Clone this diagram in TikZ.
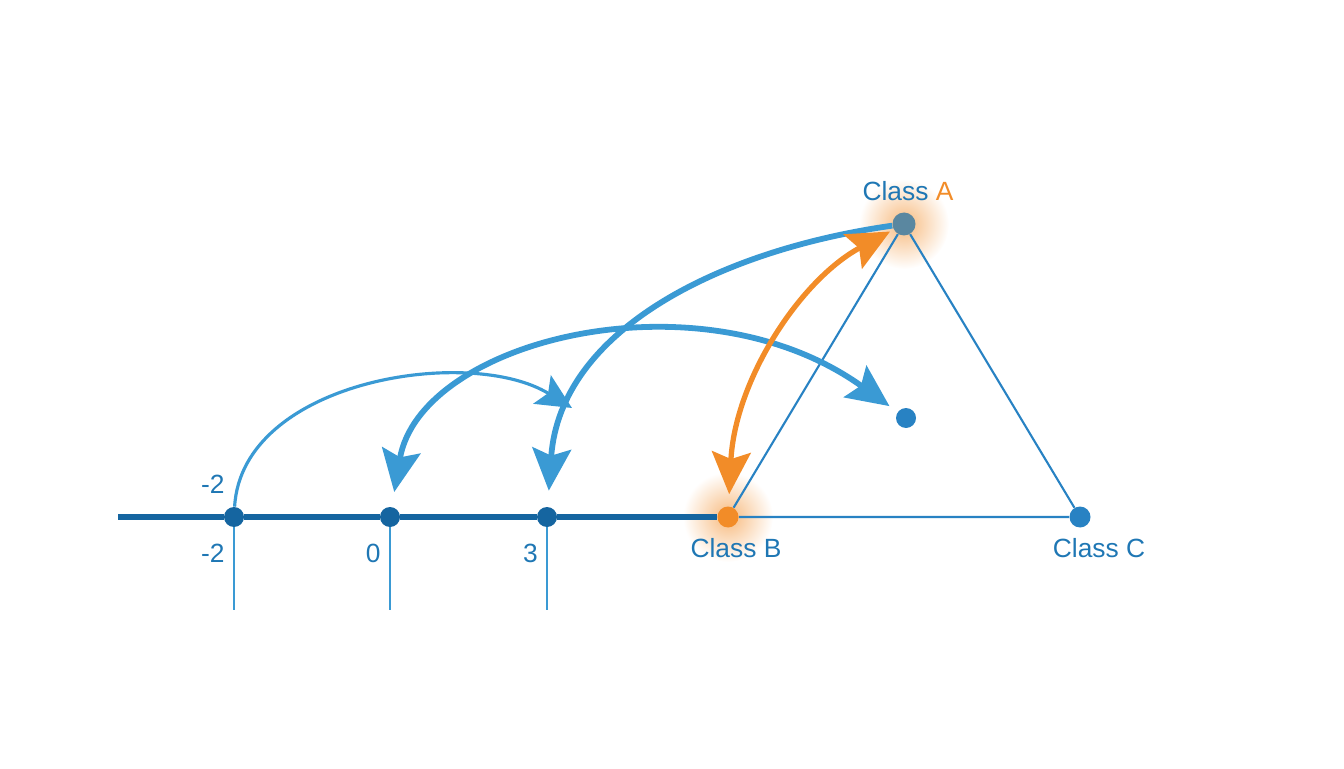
\documentclass[tikz,border=0pt]{standalone}
\usepackage{fontspec}
\setmainfont{Liberation Sans}
\usetikzlibrary{arrows.meta}
\usetikzlibrary{positioning}
\usetikzlibrary{backgrounds}
\definecolor{linienblau}{RGB}{58,154,212}
\definecolor{dunkelblau}{RGB}{21,101,160}
\definecolor{textblau}{RGB}{31,119,180}
\definecolor{punktblau}{RGB}{40,130,195}
\definecolor{orangeA}{RGB}{242,140,40}
\definecolor{graublau}{RGB}{90,135,160}

\begin{document}
\begin{tikzpicture}[x=0.02cm, y=0.02cm, % 1 Einheit = 1 Pixel
  punkt/.style={circle, fill=dunkelblau, inner sep=0pt, minimum size=0.4cm},
  beschr/.style={text=textblau, inner sep=0pt, font=\fontsize{15}{18}\selectfont},
  strich/.style={draw=linienblau, line width=1.4pt},
  seite/.style={draw=punktblau, line width=1.2pt},
  pfeil/.tip={Stealth[length=24pt, width=22pt, inset=4pt]},
  kleinpfeil/.tip={Stealth[length=20pt, width=19pt, inset=4pt]},
  bogen/.style={draw=linienblau, line width=3.3pt},
  duennbogen/.style={draw=linienblau, line width=1.8pt, -kleinpfeil},
  orangebogen/.style={draw=orangeA, line width=3pt, pfeil-pfeil},
  leuchten/.style={inner color=orangeA!60, outer color=white}
]
\useasboundingbox (0,0) rectangle (1344,768);

% Punkte
\coordinate (links) at (118,251);
\foreach \name/\x/\wert in {m2/234/-2, z/390/0, t/547/3} {
  \node[punkt] (\name) at (\x,251) {};
  \coordinate (\name u) at (\x,158);
  \node[beschr, anchor=east] (\name w) at (\x-9,215) {\wert}; % Beschriftung unten
}
\node[beschr, anchor=east] (m2o) at (225,284) {-2};
\node[punkt, fill=orangeA, minimum size=0.42cm] (B) at (728,251) {};
\node[punkt, fill=punktblau, minimum size=0.42cm] (C) at (1080,251) {};
\node[punkt, fill=graublau, minimum size=0.46cm] (A) at (904,544) {};
\node[punkt, fill=punktblau] (P) at (906,350) {};

% Klassen
\node[beschr] (labA) at (908,577) {Class \textcolor{orangeA}{A}};
\node[beschr] (labB) at (736,220) {Class B};
\node[beschr] (labC) at (1099,220) {Class C};

% Linien im Hintergrund
\begin{scope}[on background layer]
  \shade[leuchten] (B) circle (0.9cm);
  \shade[leuchten] (A) circle (0.9cm);
  \draw[dunkelblau, line width=3pt] (links) -- (m2) -- (z) -- (t) -- (B);
  \foreach \name in {m2, z, t} {
    \draw[strich] (\name) -- (\name u);
  }
  \draw[seite] (B) -- (C) -- (A) -- (B);
\end{scope}

% Bögen
\coordinate (h1) at (572,360);
\draw[duennbogen] (m2) .. controls (242,388) and (470,423) .. (h1);
\draw[bogen, pfeil-pfeil, shorten <=0.3cm, shorten >=0.2cm] (z) .. controls (420,428) and (700,498) .. (P);
\draw[bogen, -pfeil, shorten >=0.32cm] (A) .. controls (720,518) and (560,438) .. (t);
\draw[orangebogen, shorten <=0.24cm, shorten >=0.08cm] (B) .. controls (735,388) and (800,488) .. (A);

\end{tikzpicture}
\end{document}
